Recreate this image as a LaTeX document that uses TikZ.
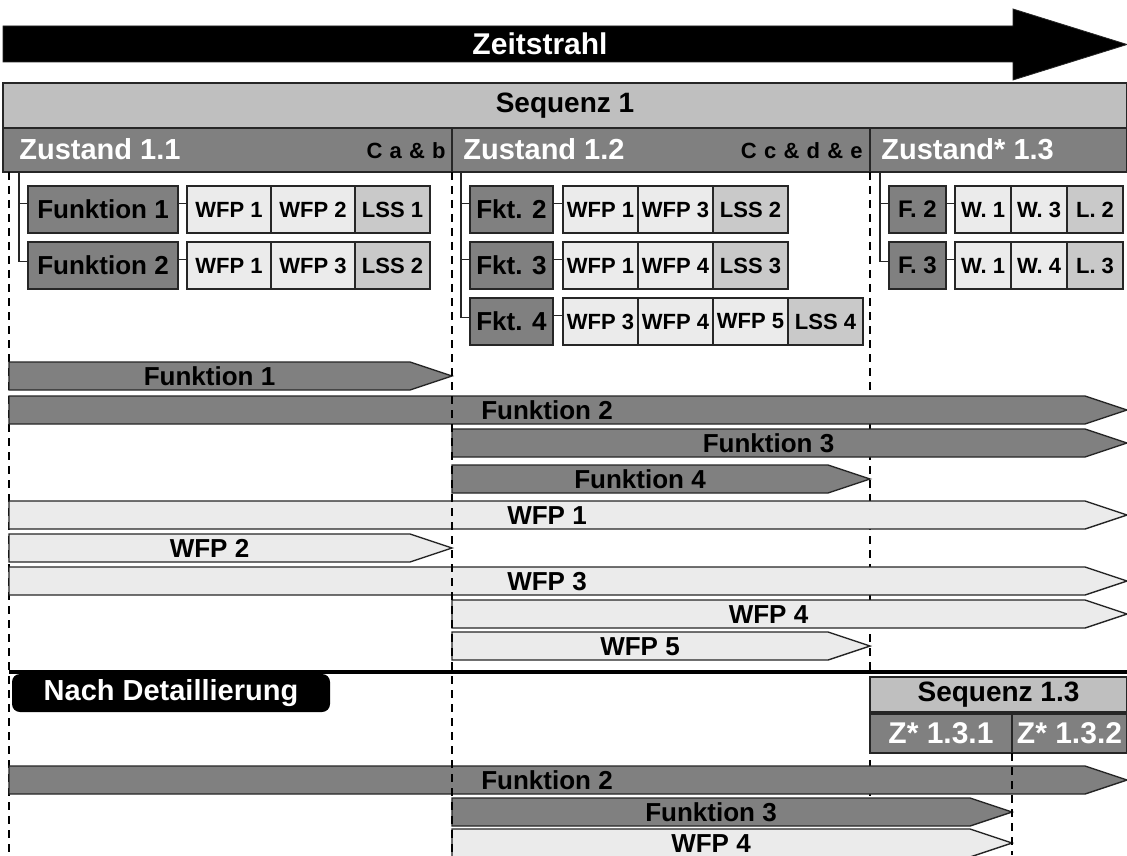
\documentclass[tikz,border=0pt]{standalone}
\usepackage{fontspec}
\setmainfont{Liberation Sans}
\usetikzlibrary{positioning}

\definecolor{dunkel}{gray}{0.5}
\definecolor{mittel}{gray}{0.75}
\definecolor{lssgrau}{gray}{0.79}
\definecolor{hell}{gray}{0.92}
\definecolor{rand}{gray}{0.15}

\begin{document}
\begin{tikzpicture}[x=0.5pt,y=-0.5pt,
  box/.style={draw=rand,line width=0.7pt,inner sep=0pt,outer sep=0pt,minimum height=23.5pt,font=\bfseries\fontsize{11}{11}\selectfont},
  fkt/.style={box,fill=dunkel,font=\bfseries\fontsize{13}{13}\selectfont},
  wfp/.style={box,fill=hell},
  lss/.style={box,fill=lssgrau},
  ast/.style={draw=rand,line width=0.7pt},
  fktbar/.style={draw=rand,line width=0.7pt,fill=dunkel},
  wfpbar/.style={draw=rand,line width=0.7pt,fill=hell},
  bartext/.style={font=\bfseries\fontsize{13}{13}\selectfont,inner sep=0pt},
  seq/.style={draw=rand,line width=0.9pt,fill=mittel,inner sep=0pt,outer sep=0pt,font=\bfseries\fontsize{14}{14}\selectfont},
  zustand/.style={draw=rand,line width=0.9pt,fill=dunkel,inner sep=0pt,outer sep=0pt,minimum height=22pt},
  ztext/.style={text=white,font=\bfseries\fontsize{14.5}{14.5}\selectfont,inner sep=0pt},
  ctext/.style={text=black,font=\bfseries\fontsize{11}{11}\selectfont\addfontfeature{LetterSpace=5},inner sep=0pt},
  trenn/.style={draw=black,line width=0.6pt,dash pattern=on 4pt off 3pt},
]
\path[use as bounding box,fill=white] (0,0) rectangle (1127,855);
\coordinate (unten) at (0,855);

% Zeitstrahl
\draw[fill=black,draw=rand] (3,26) -- (1013,26) -- (1013,9) -- (1127,44.5) -- (1013,80) -- (1013,62) -- (3,62) -- cycle;
\node[text=white,font=\bfseries\fontsize{15}{15}\selectfont,inner sep=0pt] (zeit) at (540,44) {Zeitstrahl};

% Sequenz und Zustaende
\node[seq,minimum width=562pt,minimum height=22.5pt,anchor=north west] (seq1) at (3,83) {Sequenz 1};
\node[zustand,minimum width=224.5pt,anchor=north west] (z11) at (3,128) {};
\node[zustand,minimum width=209pt,right=0pt of z11] (z12) {};
\node[zustand,minimum width=128.5pt,right=0pt of z12] (z13) {};
\node[ztext,anchor=base west] (z11t) at (19,160) {Zustand 1.1};
\node[ctext,anchor=base east] (z11c) at (446,159) {C a \& b};
\node[ztext,anchor=base west] (z12t) at (463,160) {Zustand 1.2};
\node[ctext,anchor=base east] (z12c) at (863,159) {C c \& d \& e};
\node[ztext,anchor=base west] (z13t) at (881,160) {Zustand* 1.3};

% Trennlinien hinter den Balken
\draw[trenn] ([xshift=3pt]z11.south west) -- ([xshift=3pt]z11.south west |- unten);
\draw[trenn] (z12.south east) -- (z12.south east |- unten);

% Zustand 1.1
\node[fkt,minimum width=75pt,anchor=north west] (f11) at (28,186) {Funktion 1};
\node[wfp,minimum width=42pt,right=4.5pt of f11] (f11w1) {WFP 1};
\node[wfp,minimum width=42pt,right=0pt of f11w1] (f11w2) {WFP 2};
\node[lss,minimum width=37.5pt,right=0pt of f11w2] (f11l) {LSS 1};
\node[fkt,minimum width=75pt,below=4.5pt of f11] (f12) {Funktion 2};
\node[wfp,minimum width=42pt,right=4.5pt of f12] (f12w1) {WFP 1};
\node[wfp,minimum width=42pt,right=0pt of f12w1] (f12w2) {WFP 3};
\node[lss,minimum width=37.5pt,right=0pt of f12w2] (f12l) {LSS 2};
\coordinate (a1) at (19,172);
\draw[ast] (a1) |- ([yshift=3pt]f11.west);
\draw[ast] (a1) |- ([yshift=2pt]f12.west);
\draw[ast] ([yshift=3pt]f11.east) -- ([yshift=3pt]f11w1.west);
\draw[ast] ([yshift=3pt]f12.east) -- ([yshift=3pt]f12w1.west);

% Zustand 1.2
\node[fkt,minimum width=41.5pt,anchor=north west] (f22) at (470,186) {Fkt. 2};
\node[wfp,minimum width=37.5pt,right=5pt of f22] (f22w1) {WFP 1};
\node[wfp,minimum width=37.5pt,right=0pt of f22w1] (f22w2) {WFP 3};
\node[lss,minimum width=37.5pt,right=0pt of f22w2] (f22l) {LSS 2};
\node[fkt,minimum width=41.5pt,below=4.5pt of f22] (f23) {Fkt. 3};
\node[wfp,minimum width=37.5pt,right=5pt of f23] (f23w1) {WFP 1};
\node[wfp,minimum width=37.5pt,right=0pt of f23w1] (f23w2) {WFP 4};
\node[lss,minimum width=37.5pt,right=0pt of f23w2] (f23l) {LSS 3};
\node[fkt,minimum width=41.5pt,below=4.5pt of f23] (f24) {Fkt. 4};
\node[wfp,minimum width=37.5pt,right=5pt of f24] (f24w1) {WFP 3};
\node[wfp,minimum width=37.5pt,right=0pt of f24w1] (f24w2) {WFP 4};
\node[wfp,minimum width=37.5pt,right=0pt of f24w2] (f24w3) {WFP 5};
\node[lss,minimum width=37.5pt,right=0pt of f24w3] (f24l) {LSS 4};
\coordinate (a2) at (461,172);
\draw[ast] (a2) |- ([yshift=3pt]f22.west);
\draw[ast] (a2) |- ([yshift=3pt]f23.west);
\draw[ast] (a2) |- ([yshift=2pt]f24.west);
\draw[ast] ([yshift=3pt]f22.east) -- ([yshift=3pt]f22w1.west);
\draw[ast] ([yshift=3pt]f23.east) -- ([yshift=3pt]f23w1.west);
\draw[ast] ([yshift=3pt]f24.east) -- ([yshift=3pt]f24w1.west);

% Zustand* 1.3
\node[fkt,minimum width=28.5pt,anchor=north west,font=\bfseries\fontsize{12}{12}\selectfont] (f32) at (889,186) {F. 2};
\node[wfp,minimum width=28pt,right=4.5pt of f32] (f32w1) {W. 1};
\node[wfp,minimum width=28pt,right=0pt of f32w1] (f32w2) {W. 3};
\node[lss,minimum width=28pt,right=0pt of f32w2] (f32l) {L. 2};
\node[fkt,minimum width=28.5pt,below=4.5pt of f32,font=\bfseries\fontsize{12}{12}\selectfont] (f33) {F. 3};
\node[wfp,minimum width=28pt,right=4.5pt of f33] (f33w1) {W. 1};
\node[wfp,minimum width=28pt,right=0pt of f33w1] (f33w2) {W. 4};
\node[lss,minimum width=28pt,right=0pt of f33w2] (f33l) {L. 3};
\coordinate (a3) at (880,172);
\draw[ast] (a3) |- ([yshift=3pt]f32.west);
\draw[ast] (a3) |- ([yshift=2pt]f33.west);
\draw[ast] ([yshift=3pt]f32.east) -- ([yshift=3pt]f32w1.west);
\draw[ast] ([yshift=3pt]f33.east) -- ([yshift=3pt]f33w1.west);

% Detaillierung
\draw[line width=2pt] (9,672) -- (1127,672);
\node[fill=black,rounded corners=4pt,inner sep=0pt,minimum width=159pt,minimum height=19pt,text=white,font=\bfseries\fontsize{14.5}{14.5}\selectfont] (nach) at (171,693) {Nach Detaillierung};
\node[seq,minimum width=128.5pt,minimum height=17.5pt,anchor=north west] (seq13) at (870,677) {Sequenz 1.3};
\node[zustand,minimum width=71pt,minimum height=19.5pt,anchor=north west,text=white,font=\bfseries\fontsize{15}{15}\selectfont] (z131) at ([yshift=-1pt]seq13.south west) {Z* 1.3.1\hspace{6pt}};
\node[zustand,minimum width=57.5pt,minimum height=19.5pt,right=0pt of z131,text=white,font=\bfseries\fontsize{15}{15}\selectfont] (z132) {Z* 1.3.2};

% Balken: Name/von/bis/oben/Stil/Text
\foreach \nm/\von/\bis/\oben/\stil/\lab in {
  b1/9/452/362/fktbar/Funktion 1,
  b2/9/1127/396/fktbar/Funktion 2,
  b3/452/1127/429/fktbar/Funktion 3,
  b4/452/870/465/fktbar/Funktion 4,
  b5/9/1127/501/wfpbar/WFP 1,
  b6/9/452/534/wfpbar/WFP 2,
  b7/9/1127/567/wfpbar/WFP 3,
  b8/452/1127/600/wfpbar/WFP 4,
  b9/452/870/632/wfpbar/WFP 5,
  d1/9/1127/766/fktbar/Funktion 2,
  d2/452/1012/798/fktbar/Funktion 3,
  d3/452/1012/829/wfpbar/WFP 4}
{
  \draw[\stil] (\von,\oben) -- (\bis-42,\oben) -- (\bis,\oben+14) -- (\bis-42,\oben+28) -- (\von,\oben+28) -- cycle;
  \node[bartext] (\nm) at ({(\von+\bis-42)/2},\oben+14.5) {\lab};
}

% Trennlinien vor den Balken
\draw[trenn] (z11.south east) -- (z11.south east |- unten);
\draw[trenn] (z131.south east) -- (z131.south east |- unten);
\end{tikzpicture}
\end{document}
